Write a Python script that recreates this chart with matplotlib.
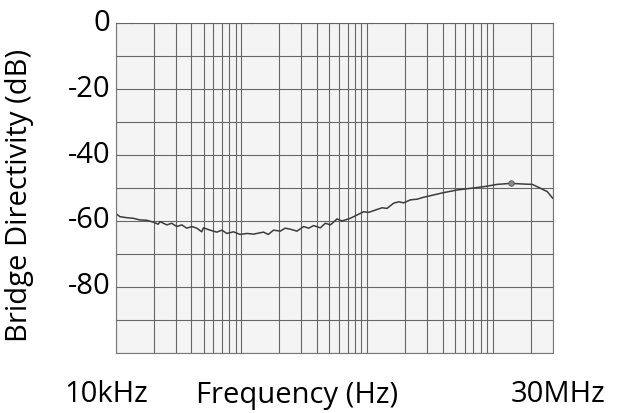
import numpy as np
import matplotlib
matplotlib.use('Agg')
import matplotlib.pyplot as plt
from matplotlib.ticker import LogLocator, NullFormatter

plt.rcParams['font.family'] = ['Open Sans', 'DejaVu Sans']

freq_khz = [10, 10.8, 12.2, 13.8, 15.6, 17.7, 20.0, 21.8, 22.5, 25.5, 27.9, 30.6,
            33.6, 36.8, 40.4, 44.2, 48.4, 49.9, 56.4, 63.8, 70.0, 76.6, 86.5, 97.7,
            111, 125, 141, 150, 164, 180, 204, 223, 245, 277, 313, 343, 376, 425,
            466, 511, 577, 632, 736, 832, 940, 1030, 1164, 1318, 1442, 1629, 1786,
            1959, 2213, 2500, 2825, 3396, 4074, 5212, 6653, 8492, 10860, 13870,
            17700, 20650, 24040, 27160, 30000]
directivity_db = [-57.7, -58.7, -59.0, -59.2, -59.7, -59.8, -60.4, -61.0, -60.2, -61.2,
                  -60.7, -61.7, -61.2, -62.2, -61.7, -62.2, -63.3, -62.1, -62.8, -63.4,
                  -62.8, -63.8, -63.3, -64.1, -63.8, -64.0, -63.6, -63.4, -64.1, -62.8,
                  -63.1, -62.2, -62.5, -63.1, -61.7, -62.2, -61.4, -62.1, -60.7, -61.2,
                  -59.4, -60.0, -59.2, -58.2, -57.2, -57.4, -56.7, -56.0, -56.2, -54.6,
                  -54.2, -54.5, -53.6, -53.4, -52.8, -52.1, -51.4, -50.6, -50.1, -49.6,
                  -48.9, -48.6, -48.8, -48.9, -50.1, -51.1, -53.1]
marker_khz = 13870
marker_db = -48.6

ytick_vals = [0, -20, -40, -60, -80]
ytick_labels = ['0', '-20', '-40', '-60', '-80']

f = np.array(freq_khz) * 1e3

fig = plt.figure(figsize=(6.24, 4.13), dpi=100)
ax = fig.add_axes([0.1854, 0.146, 0.7003, 0.7976])
ax.set_facecolor('#f4f4f4')

ax.set_xscale('log')
ax.set_xlim(1e4, 3e7)
ax.set_ylim(-100, 0)

ax.xaxis.set_major_locator(LogLocator(base=10, subs=np.arange(1, 10)))
ax.xaxis.set_minor_locator(LogLocator(base=10, subs=[]))
ax.xaxis.set_major_formatter(NullFormatter())
ax.xaxis.set_minor_formatter(NullFormatter())
ax.set_yticks(np.arange(-100, 1, 10))
ax.set_yticklabels([''] * 11)
ax.grid(True, which='major', color='#666666', lw=0.8)
ax.tick_params(length=0)

for v, lab in zip(ytick_vals, ytick_labels):
    ax.text(-0.012, (v + 100) / 100, lab, transform=ax.transAxes,
            ha='right', va='center', fontsize=21)

ax.plot(f, directivity_db, color='#3c3c3c', lw=1.1)
ax.plot([marker_khz * 1e3], [marker_db], 'o', ms=4, mfc='#888888', mec='#555555', mew=0.6)

for s in ['left', 'right', 'bottom']:
    ax.spines[s].set_color('#777777')
    ax.spines[s].set_linewidth(0.8)
ax.spines['top'].set_color('#666666')
ax.spines['top'].set_linestyle((0, (4, 2)))

fig.text(20 / 624, 1 - 195 / 413, 'Bridge Directivity (dB)', rotation=90,
         ha='center', va='center', fontsize=21)
fig.text(106 / 624, 1 - 395 / 413, '10kHz', ha='center', va='center', fontsize=21)
fig.text(297 / 624, 1 - 395 / 413, 'Frequency (Hz)', ha='center', va='center', fontsize=21)
fig.text(558 / 624, 1 - 395 / 413, '30MHz', ha='center', va='center', fontsize=21)

fig.savefig('out.png', dpi=100)
